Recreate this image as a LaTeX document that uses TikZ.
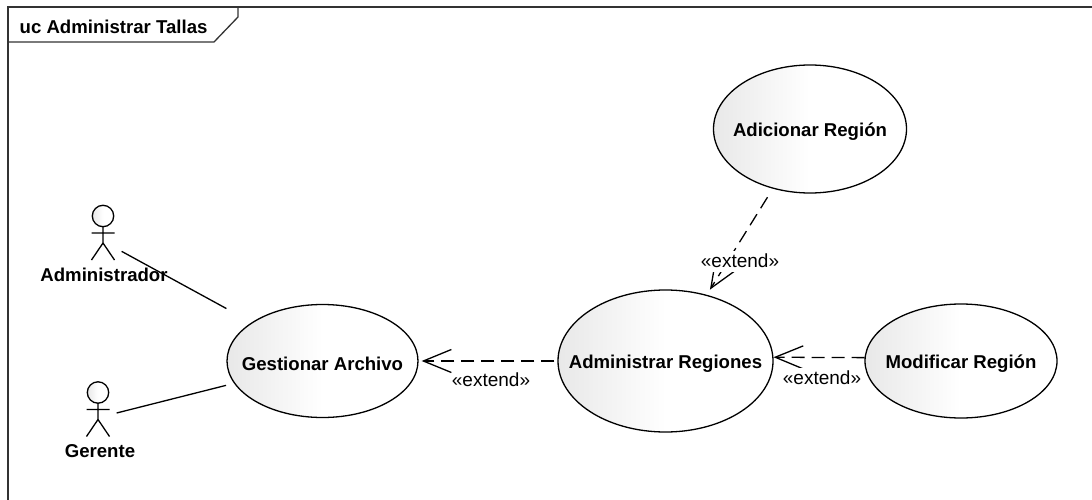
\documentclass[tikz,border=0pt]{standalone}
\usepackage{fontspec}
\setmainfont{Liberation Sans}
\usetikzlibrary{
  shapes.geometric,
  arrows.meta,
  positioning,  % Function "of" (e.g. [below=of x])
}
\def\myline{1.3pt}
\tikzset{
  my shade/.style={
    left color=black!9,
    right color=white,
    middle color=white
  },
  frame/.style={
    draw=black!80
  },
  frame title/.style={
    font=\fontsize{18.6}{21}\bfseries\selectfont,
    inner sep=0mm
  },
  usecase/.style={
    ellipse,
    draw,
    my shade,
    inner sep=0mm
  },
  every label/.style={
    inner sep=0mm,
    yshift=-2.5pt,
    font=\fontsize{18.6}{21}\bfseries\selectfont
  },
  actor/.style={
    inner sep=0mm,
    minimum width=36pt,
    minimum height=46pt
  },
  actor label/.style={
    inner sep=0mm,
    minimum height=18pt,
    font=\fontsize{18.6}{21}\bfseries\selectfont
  },
  extend/.style={
    dash pattern=on 13pt off 7pt,
    -{Straight Barb[length=28pt,width=23pt,line width=\myline]}
  },
  extend label/.style={
    fill=white,
    inner sep=0mm,
    minimum height=21pt,
    font=\fontsize{19}{21}\selectfont
  }
}
% name, centre, label, horizontal shift of the label
\newcommand{\actor}[4]{
  \node[actor] (#1) at (#2) {};
  \draw[my shade,shift={(#2)}] (0,-25.2) circle (10.7pt);
  \draw[shift={(#2)}] (-11.5,-8.2) -- (11.5,-8.2)
    (0,-14.5) -- (0,1.8) (-11.5,18.8) -- (0,1.8) -- (11.5,18.8);
  \node[actor label,below=0pt of #1,xshift=#4] {#3};
}

\begin{document}
\begin{tikzpicture}[x=1pt,y=-1pt,line width=\myline]
\useasboundingbox (0,0) rectangle (1092,500);
% Frame
\draw[frame] (8,500) -- (8,7) -- (1092,7);
\draw[frame] (8,42) -- (214,42) -- (238,17) -- (238,7);
\node[frame title,anchor=west] (title) at (19,26.5) {uc Administrar Tallas};
% Use cases
\node[usecase,minimum width=191pt,minimum height=113pt,label=center:{Gestionar Archivo}] (gestionar) at (322.5,361) {};
\node[usecase,minimum width=215pt,minimum height=142pt,label=center:{Administrar Regiones}] (regiones) at (665.5,361) {};
\node[usecase,minimum width=192pt,minimum height=114pt,label=center:{Modificar Región}] (modificar) at (961,361) {};
\node[usecase,minimum width=193pt,minimum height=128pt,label=center:{Adicionar Región}] (adicionar) at (810,129) {};
% Actors
\actor{administrador}{103,241.2}{Administrador}{1pt}
\actor{gerente}{98,417.7}{Gerente}{2pt}
\draw[shorten >=28.8pt] (administrador) -- (gestionar);
\draw[shorten >=8.2pt] (gerente) -- (gestionar);
% Extends
\draw[extend,shorten <=3pt,shorten >=3pt] (regiones) -- (gestionar);
\draw[extend,shorten <=10pt,shorten >=6pt] (adicionar) -- (regiones);
\draw[extend] (modificar.178) -- (regiones.2);
\node[extend label] (label1) at (491,380) {«extend»};
\node[extend label] (label2) at (740,261) {«extend»};
\node[extend label] (label3) at (822,378) {«extend»};
\end{tikzpicture}
\end{document}
